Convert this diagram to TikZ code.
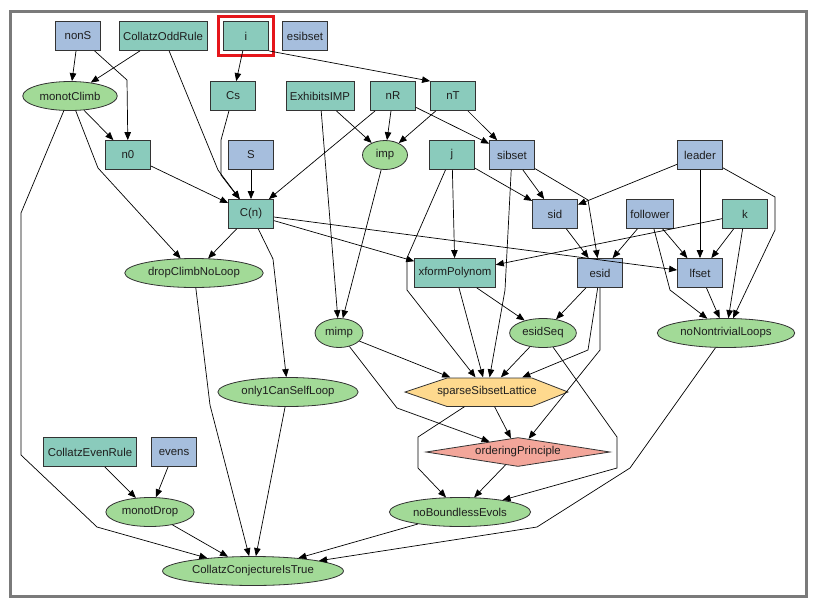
\documentclass[tikz,border=0pt]{standalone}
\usepackage{fontspec}
\setmainfont{Liberation Sans}
\usepackage{tikz}
\usetikzlibrary{arrows.meta,positioning,shapes.geometric,fit}
\definecolor{ink}{HTML}{1E1E1E}
\definecolor{edgegray}{HTML}{333333}
\definecolor{seafoam}{HTML}{8ACBBC}
\definecolor{steel}{HTML}{A6BEDD}
\definecolor{leaf}{HTML}{A2DA97}
\definecolor{sand}{HTML}{FED98E}
\definecolor{rose}{HTML}{F3A69A}
\definecolor{framegray}{HTML}{7A7A7A}
\definecolor{markred}{HTML}{E5161B}

\begin{document}
\begin{tikzpicture}[x=1pt,y=-1pt,
  font=\fontsize{11.4}{13}\selectfont,text=ink,
  base/.style={draw=edgegray,line width=0.8pt,inner ysep=1pt,
               minimum height=29pt},
  tealbox/.style={base,rectangle,fill=seafoam,inner xsep=4pt,minimum width=45pt},
  bluebox/.style={base,rectangle,fill=steel,inner xsep=4pt,minimum width=45pt},
  claim/.style={base,ellipse,fill=leaf,inner xsep=3pt,minimum width=45pt},
  lattice/.style={rectangle,inner sep=0pt,minimum width=163pt,minimum height=29pt},
  principle/.style={base,diamond,aspect=6,fill=rose,inner sep=1pt,
                    minimum width=184pt},
  arr/.style={-{Triangle[length=8pt,width=6.5pt]},line width=0.7pt,black}]

  \useasboundingbox (0,0) rectangle (815,606);
  \fill[white] (0,0) rectangle (815,606);
  \draw[framegray,line width=3pt] (10,11) rectangle (806,596.5);

  % top row
  \node[bluebox] (nonS) at (78,36) {nonS};
  \node[tealbox] (CollatzOddRule) at (163,36) {CollatzOddRule};
  \node[tealbox] (i) at (246,36) {i};
  \node[bluebox] (esibset) at (305,36) {esibset};

  \node[claim] (monotClimb) at (70,96) {monotClimb};
  \node[tealbox] (Cs) at (233,96) {Cs};
  \node[tealbox] (ExhibitsIMP) at (320,96) {ExhibitsIMP};
  \node[tealbox] (nR) at (393,96) {nR};
  \node[tealbox] (nT) at (453,96) {nT};

  \node[tealbox] (n0) at (128,155) {n0};
  \node[bluebox] (S) at (251,155) {S};
  \node[claim] (imp) at (385,155) {imp};
  \node[tealbox] (j) at (452,155) {j};
  \node[bluebox] (sibset) at (512,155) {sibset};
  \node[bluebox] (leader) at (700,155) {leader};

  \node[tealbox] (Cn) at (251,214) {C(n)};
  \node[bluebox] (sid) at (555,214) {sid};
  \node[bluebox] (follower) at (650,214) {follower};
  \node[tealbox] (k) at (745,214) {k};

  % middle
  \node[claim] (dropClimbNoLoop) at (194,273) {dropClimbNoLoop};
  \node[tealbox] (xformPolynom) at (455,273) {xformPolynom};
  \node[bluebox] (esid) at (600,273) {esid};
  \node[bluebox] (lfset) at (700,273) {lfset};

  \node[claim] (mimp) at (339,333) {mimp};
  \node[claim] (esidSeq) at (543,333) {esidSeq};
  \node[claim] (noNontrivialLoops) at (726,333) {noNontrivialLoops};

  \node[claim] (only1CanSelfLoop) at (288,392) {only1CanSelfLoop};
  % hexagon drawn by hand, text node on top
  \filldraw[fill=sand,draw=edgegray,line width=0.8pt]
    (405,392) -- (447,378) -- (532,378) -- (568,392) -- (532,406.5) -- (447,406.5) -- cycle;
  \node[lattice] (sparseSibsetLattice) at (487,392) {sparseSibsetLattice};

  % bottom
  \node[tealbox] (CollatzEvenRule) at (90,452) {CollatzEvenRule};
  \node[bluebox] (evens) at (174,452) {evens};
  \node[principle] (orderingPrinciple) at (518,452) {orderingPrinciple};

  \node[claim] (monotDrop) at (150,512) {monotDrop};
  \node[claim] (noBoundlessEvols) at (460,512) {noBoundlessEvols};
  \node[claim] (CollatzConjectureIsTrue) at (253,571) {CollatzConjectureIsTrue};

  \node[fit=(i),draw=markred,line width=3pt,inner sep=4.5pt] (mark) {};

  % edges
  \draw[arr] (nonS) -- (monotClimb);
  \draw[arr] (nonS) -- (127,80) -- (n0);
  \draw[arr] (CollatzOddRule) -- (monotClimb);
  \draw[arr] (CollatzOddRule) -- (218,170) -- (Cn);
  \draw[arr] (i) -- (Cs);
  \draw[arr] (i.south east) -- (nT.north west);
  \draw[arr] (monotClimb) -- (n0);
  \draw[arr] (monotClimb) -- (98,168) -- (dropClimbNoLoop);
  \draw[arr] (monotClimb) -- (21,213) -- (21,455) -- (97,527)
                          -- (CollatzConjectureIsTrue);
  \draw[arr] (Cs) -- (221,140) -- (221,175) -- (Cn);
  \draw[arr] (S) -- (Cn);
  \draw[arr] (n0) -- (Cn);
  \draw[arr] (nR) -- (Cn);
  \draw[arr] (nR) -- (imp);
  \draw[arr] (nR) -- (sibset);
  \draw[arr] (ExhibitsIMP) -- (imp);
  \draw[arr] (ExhibitsIMP) -- (mimp);
  \draw[arr] (imp) -- (mimp);
  \draw[arr] (nT) -- (imp);
  \draw[arr] (nT) -- (sibset);
  \draw[arr] (Cn) -- (dropClimbNoLoop);
  \draw[arr] (Cn) -- (273,259) -- (only1CanSelfLoop);
  \draw[arr] (Cn) -- (xformPolynom);
  \draw[arr] (Cn) -- (lfset);
  \draw[arr] (j) -- (xformPolynom);
  \draw[arr] (j) -- (sid);
  \draw[arr] (j) -- (407,258) -- (407,290) -- (sparseSibsetLattice);
  \draw[arr] (sibset) -- (sid);
  \draw[arr] (sibset) -- (588,200) -- (esid);
  \draw[arr] (sibset) -- (505,290) -- (sparseSibsetLattice);
  \draw[arr] (leader) -- (sid);
  \draw[arr] (leader) -- (lfset);
  \draw[arr] (leader) -- (775,197) -- (775,230) -- (noNontrivialLoops);
  \draw[arr] (follower) -- (esid);
  \draw[arr] (follower) -- (lfset);
  \draw[arr] (follower) -- (670,290) -- (noNontrivialLoops);
  \draw[arr] (k) -- (xformPolynom);
  \draw[arr] (k) -- (lfset);
  \draw[arr] (k) -- (noNontrivialLoops);
  \draw[arr] (sid) -- (esid);
  \draw[arr] (xformPolynom) -- (esidSeq);
  \draw[arr] (xformPolynom) -- (sparseSibsetLattice);
  \draw[arr] (esid) -- (esidSeq);
  \draw[arr] (esid) -- (588,350) -- (sparseSibsetLattice);
  \draw[arr] (esid) -- (600,350) -- (orderingPrinciple);
  \draw[arr] (lfset) -- (noNontrivialLoops);
  \draw[arr] (dropClimbNoLoop) -- (210,405) -- (CollatzConjectureIsTrue);
  \draw[arr] (only1CanSelfLoop) -- (CollatzConjectureIsTrue);
  \draw[arr] (mimp) -- (sparseSibsetLattice);
  \draw[arr] (mimp) -- (397,408) -- (orderingPrinciple);
  \draw[arr] (esidSeq) -- (sparseSibsetLattice);
  \draw[arr] (esidSeq) -- (617,437) -- (617,468) -- (noBoundlessEvols);
  \draw[arr] (sparseSibsetLattice) -- (orderingPrinciple);
  \draw[arr] (sparseSibsetLattice) -- (418,437) -- (418,468) -- (noBoundlessEvols);
  \draw[arr] (orderingPrinciple) -- (noBoundlessEvols);
  \draw[arr] (noNontrivialLoops) -- (630,468) -- (537,527) -- (CollatzConjectureIsTrue);
  \draw[arr] (noBoundlessEvols) -- (CollatzConjectureIsTrue);
  \draw[arr] (CollatzEvenRule) -- (monotDrop);
  \draw[arr] (evens) -- (monotDrop);
  \draw[arr] (monotDrop) -- (CollatzConjectureIsTrue);
\end{tikzpicture}
\end{document}
